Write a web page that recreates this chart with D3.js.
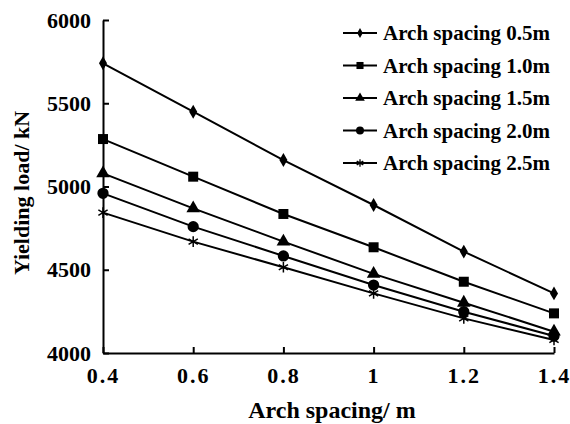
<!DOCTYPE html>
<html>
<head>
<meta charset="utf-8">
<style>
  body { margin: 0; background: #fff; }
  svg text { font-family: "Liberation Serif", "Times New Roman", serif; font-weight: bold; fill: #000; }
</style>
</head>
<body>
<script src="https://cdn.jsdelivr.net/npm/d3@7"></script>
<script>
// arch spacing along x (m)
var xs = [0.4, 0.6, 0.8, 1.0, 1.2, 1.4];
var seriesNames = ["Arch spacing 0.5m", "Arch spacing 1.0m", "Arch spacing 1.5m", "Arch spacing 2.0m", "Arch spacing 2.5m"];
var s05 = [5740, 5449, 5159, 4889, 4609, 4358];
var s10 = [5285, 5059, 4835, 4635, 4428, 4238];
var s15 = [5079, 4869, 4669, 4475, 4302, 4128];
var s20 = [4959, 4759, 4583, 4408, 4248, 4102];
var s25 = [4843, 4669, 4515, 4358, 4208, 4078];
var xTicks = [0.4, 0.6, 0.8, 1, 1.2, 1.4];
var yTicks = [4000, 4500, 5000, 5500, 6000];

var allSeries = [s05, s10, s15, s20, s25];
var symbols = [d3.symbolDiamond, d3.symbolSquare, d3.symbolTriangle, d3.symbolCircle, d3.symbolAsterisk];
var symSize = [56, 100, 80, 100, 80];

var W = 570, H = 424;
var margin = {top: 20, right: 16, bottom: 71, left: 103};

var svg = d3.select("body").append("svg")
  .attr("width", W).attr("height", H);

var x = d3.scaleLinear().domain([0.4, 1.4]).range([margin.left, W - margin.right]);
var y = d3.scaleLinear().domain([4000, 6000]).range([H - margin.bottom, margin.top]);

// axes, ticks pointing inward
var gx = svg.append("g")
  .attr("transform", "translate(0," + (H - margin.bottom) + ")")
  .call(d3.axisBottom(x).tickValues(xTicks).tickSizeInner(-6).tickSizeOuter(0).tickPadding(14)
    .tickFormat(function(d){ return String(+d.toFixed(1)); }));
gx.selectAll("text").style("font-size", "22px").style("letter-spacing", "2px");

var gy = svg.append("g")
  .attr("transform", "translate(" + margin.left + ",0)")
  .call(d3.axisLeft(y).tickValues(yTicks).tickSizeInner(-6).tickSizeOuter(0).tickPadding(12)
    .tickFormat(d3.format("d")));
gy.selectAll("text").style("font-size", "22px");

svg.selectAll(".domain, .tick line").attr("stroke", "#000").attr("stroke-width", 2);

// lines and markers
var line = d3.line()
  .x(function(d, i){ return x(xs[i]); })
  .y(function(d){ return y(d); });

allSeries.forEach(function(s, k){
  svg.append("path")
    .datum(s)
    .attr("d", line)
    .attr("fill", "none")
    .attr("stroke", "#000")
    .attr("stroke-width", 2);

  var isStroke = symbols[k] === d3.symbolAsterisk;
  svg.selectAll(".m" + k).data(s).enter()
    .append("path")
    .attr("class", "m" + k)
    .attr("transform", function(d, i){ return "translate(" + x(xs[i]) + "," + y(d) + ")"; })
    .attr("d", d3.symbol().type(symbols[k]).size(symSize[k]))
    .attr("fill", isStroke ? "none" : "#000")
    .attr("stroke", isStroke ? "#000" : "none")
    .attr("stroke-width", 1.5);
});

// legend
var lg = svg.append("g").attr("transform", "translate(343,33)");
seriesNames.forEach(function(name, k){
  var row = lg.append("g").attr("transform", "translate(0," + (k * 32.5) + ")");
  row.append("line").attr("x1", 0).attr("x2", 34).attr("y1", 0).attr("y2", 0)
    .attr("stroke", "#000").attr("stroke-width", 2);
  var isStroke = symbols[k] === d3.symbolAsterisk;
  row.append("path")
    .attr("transform", "translate(17,0)")
    .attr("d", d3.symbol().type(symbols[k]).size(symSize[k] * 0.5))
    .attr("fill", isStroke ? "none" : "#000")
    .attr("stroke", isStroke ? "#000" : "none")
    .attr("stroke-width", 1.3);
  row.append("text").attr("x", 40).attr("y", 7)
    .style("font-size", "21px")
    .text(name);
});

// axis titles
svg.append("text")
  .attr("x", 332)
  .attr("y", 418)
  .attr("text-anchor", "middle")
  .style("font-size", "24px")
  .text("Arch spacing/ m");

svg.append("text")
  .attr("transform", "translate(29,193) rotate(-90)")
  .attr("text-anchor", "middle")
  .style("font-size", "22px")
  .text("Yielding load/ kN");
</script>
</body>
</html>
